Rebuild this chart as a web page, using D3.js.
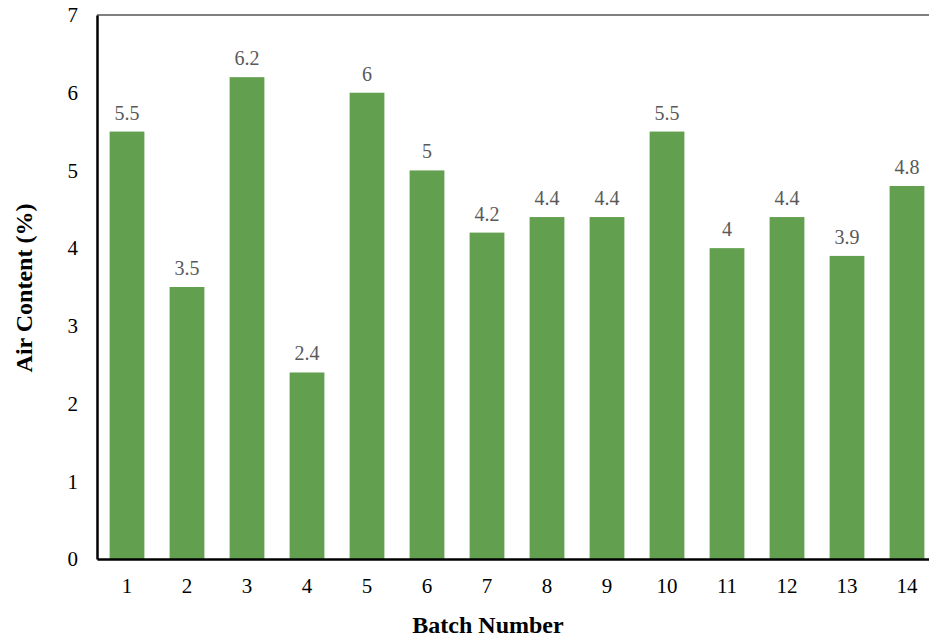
<!DOCTYPE html>
<html>
<head>
<meta charset="utf-8">
<script src="https://cdn.jsdelivr.net/npm/d3@7"></script>
<style>
  html, body { margin: 0; padding: 0; background: #fff; }
  svg { display: block; }
  svg text { font-family: "Liberation Serif", "Times New Roman", serif; }
</style>
</head>
<body>
<svg id="chart" width="929" height="639"></svg>
<script>
// Air content per batch
const batches = ["1","2","3","4","5","6","7","8","9","10","11","12","13","14"];
const airContent = [5.5, 3.5, 6.2, 2.4, 6, 5, 4.2, 4.4, 4.4, 5.5, 4, 4.4, 3.9, 4.8];
const yTicks = [0, 1, 2, 3, 4, 5, 6, 7];

const svg = d3.select("#chart");
const font = "'Liberation Serif', 'Times New Roman', serif";

const plotLeft = 97, plotRight = 937, plotTop = 15, plotBottom = 559;

const x = d3.scaleBand().domain(batches).range([plotLeft, plotRight]).paddingInner(0.42).paddingOuter(0.21);
const y = d3.scaleLinear().domain([0, 7]).range([plotBottom, plotTop]);

// top border of plot area
svg.append("line")
  .attr("x1", plotLeft).attr("x2", 929)
  .attr("y1", plotTop).attr("y2", plotTop)
  .attr("stroke", "#555").attr("stroke-width", 1.5);

// bars
svg.append("g").selectAll("rect")
  .data(airContent)
  .join("rect")
  .attr("x", (d, i) => x(batches[i]))
  .attr("width", x.bandwidth())
  .attr("y", d => y(d))
  .attr("height", d => y(0) - y(d))
  .attr("fill", "#62a050");

// value labels
svg.append("g").selectAll("text")
  .data(airContent)
  .join("text")
  .attr("x", (d, i) => x(batches[i]) + x.bandwidth() / 2)
  .attr("y", d => y(d) - 12)
  .attr("text-anchor", "middle")
  .attr("font-family", font)
  .attr("font-size", 20)
  .attr("fill", "#595959")
  .text(d => d);

// y axis
const yAxis = svg.append("g")
  .attr("transform", `translate(${plotLeft},0)`)
  .call(d3.axisLeft(y).tickValues(yTicks).tickFormat(d3.format("d")).tickSize(0).tickPadding(19));
yAxis.select(".domain").attr("stroke", "#000").attr("stroke-width", 2.5);
yAxis.selectAll("text")
  .attr("font-family", font).attr("font-size", 21).attr("fill", "#000");

// x axis
const xAxis = svg.append("g")
  .attr("transform", `translate(0,${plotBottom})`)
  .call(d3.axisBottom(x).tickSize(0).tickPadding(19));
xAxis.select(".domain").attr("stroke", "#000").attr("stroke-width", 2.5);
xAxis.selectAll("text")
  .attr("font-family", font).attr("font-size", 21).attr("fill", "#000");

// axis titles
svg.append("text")
  .attr("x", 488).attr("y", 633)
  .attr("text-anchor", "middle")
  .attr("font-family", font).attr("font-weight", "bold").attr("font-size", 24)
  .attr("fill", "#000")
  .text("Batch Number");

svg.append("text")
  .attr("transform", "translate(32,288) rotate(-90)")
  .attr("text-anchor", "middle")
  .attr("font-family", font).attr("font-weight", "bold").attr("font-size", 24)
  .attr("fill", "#000")
  .text("Air Content (%)");
</script>
</body>
</html>
